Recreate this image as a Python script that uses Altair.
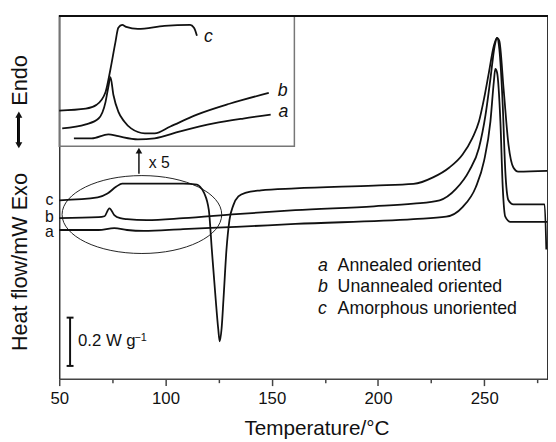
import altair as alt
import pandas as pd

FONT = "Liberation Sans"
W, H = 496, 368
XDOM = [50, 280]
YDOM = [0, 1.502]

# ---- main DSC curves: temperature (°C) and heat flow (W/g, arbitrary offset)
A_T = [50, 68.5, 75.9, 81.9, 89.8, 108.3, 133.3, 161.1, 216.7, 232.1, 239.8, 246.0, 249.9,
       252.9, 254.5, 255.2, 256.0, 257.6, 258.7, 259.9, 262.2, 279.6]
A_V = [0.616, 0.616, 0.624, 0.616, 0.612, 0.620, 0.629, 0.641, 0.661, 0.671, 0.711, 0.793, 0.902,
       1.065, 1.229, 1.283, 1.269, 1.065, 0.793, 0.671, 0.650, 0.650]

B_T = [50, 68.5, 71.3, 73.6, 75.9, 78.7, 81.9, 91.2, 108.3, 133.3, 161.1, 198.1, 216.7, 229.0,
       236.7, 242.9, 247.5, 250.6, 252.9, 254.9, 256.0, 257.1, 258.7, 259.9, 261.4, 263.7, 278.4, 279.2]
B_V = [0.665, 0.669, 0.673, 0.706, 0.678, 0.665, 0.661, 0.657, 0.665, 0.682, 0.698, 0.714, 0.725, 0.739,
       0.786, 0.861, 0.956, 1.093, 1.242, 1.378, 1.412, 1.365, 1.133, 0.861, 0.739, 0.722, 0.722, 0.535]

C_T = [50, 68.1, 72.7, 76.9, 79.6, 87.0, 108.3, 114.8, 116.2, 118.1, 120.4, 121.8, 123.6, 124.8,
       125.5, 126.4, 127.3, 128.7, 130.1, 131.9, 134.3, 138.0, 144.9, 161.1, 198.1, 216.7, 225.9,
       233.6, 239.8, 244.4, 247.5, 249.9, 252.2, 254.5, 256.0, 257.1, 259.1, 261.4, 263.7, 266.0, 279.6]
C_V = [0.739, 0.751, 0.767, 0.796, 0.808, 0.808, 0.808, 0.804, 0.796, 0.771, 0.698, 0.535, 0.331, 0.208,
       0.155, 0.208, 0.331, 0.535, 0.657, 0.718, 0.755, 0.771, 0.780, 0.788, 0.800, 0.807, 0.834,
       0.875, 0.929, 0.997, 1.065, 1.160, 1.269, 1.378, 1.412, 1.399, 1.201, 0.970, 0.875, 0.858, 0.861]

# ---- inset (x5 magnification of the 50-150 °C region), relative heat flow W/g
INSET_BASE = 0.9633   # bottom of inset box in main units
MAG = 5
INSET_T_END = 160.65
IC_T = [50, 62.5, 67.6, 71.8, 74.1, 76.4, 77.8, 79.6, 81.5, 87.0, 99.5, 111.6, 113.4, 114.8]
IC_V = [0.0294, 0.0310, 0.0343, 0.0449, 0.0637, 0.0857, 0.0980, 0.1004, 0.0988, 0.0971, 0.0996,
        0.1004, 0.0980, 0.0914]
IB_T = [51.4, 62.5, 68.5, 71.8, 73.1, 74.1, 75.5, 77.8, 80.6, 83.8, 90.3, 94.9, 102.3, 114.8, 130.1, 148.6]
IB_V = [0.0147, 0.0180, 0.0229, 0.0367, 0.0490, 0.0571, 0.0424, 0.0286, 0.0204, 0.0147, 0.0106,
        0.0106, 0.0163, 0.0261, 0.0351, 0.0441]
IA_T = [56.9, 65.3, 73.1, 77.8, 87.0, 94.9, 106.9, 122.7, 136.6, 149.5]
IA_V = [0.0065, 0.0065, 0.0098, 0.0082, 0.0057, 0.0065, 0.0122, 0.0188, 0.0229, 0.0261]

X_TICKS = [50, 75, 100, 125, 150, 175, 200, 225, 250, 275]
LEGEND_KEYS = ["a", "b", "c"]
LEGEND_TEXT = ["Annealed oriented", "Unannealed oriented", "Amorphous unoriented"]
Y_TITLE_LEFT = "Heat flow/mW Exo"
Y_TITLE_RIGHT = "Endo"


def frame(ts, vs, name):
    return pd.DataFrame({"T": ts, "v": vs, "curve": name})


main_df = pd.concat([frame(A_T, A_V, "a"), frame(B_T, B_V, "b"), frame(C_T, C_V, "c")])
inset_df = pd.concat([frame(IA_T, IA_V, "a"), frame(IB_T, IB_V, "b"), frame(IC_T, IC_V, "c")])

xs = alt.Scale(domain=XDOM, nice=False, zero=False)
ys = alt.Scale(domain=YDOM, nice=False, zero=False)

x_axis = alt.Axis(
    values=X_TICKS,
    labelExpr="datum.value % 50 == 0 ? datum.label : ''",
    tickSize={"condition": {"test": "datum.value % 50 === 0", "value": 7}, "value": 4},
    grid=False, domainColor="#444", domainWidth=1.5, tickColor="#444", tickWidth=1.5,
    labelFont=FONT, labelFontSize=17, labelColor="#111", labelPadding=5, labelFlush=False,
    title="Temperature/°C", titleFont=FONT, titleFontSize=21, titleFontWeight="normal",
    titleColor="#111", titleX=261, titleY=57, titleBaseline="alphabetic", titleAlign="center",
)
y_axis = alt.Axis(labels=False, ticks=False, grid=False, domainColor="#333", domainWidth=1.5, title=None)

X = alt.X("T:Q", scale=xs, axis=x_axis)
Y = alt.Y("v:Q", scale=ys, axis=y_axis)

curves = alt.Chart(main_df).mark_line(color="#111", strokeWidth=1.8, interpolate="monotone").encode(
    x=X, y=Y, detail="curve:N")

inset_curves = alt.Chart(inset_df).transform_calculate(
    v=f"{INSET_BASE} + {MAG} * datum.v"
).mark_line(color="#111", strokeWidth=1.8, interpolate="monotone").encode(x=X, y=Y, detail="curve:N")

# inset box
box = alt.Chart(pd.DataFrame({"T": [XDOM[0]], "T2": [INSET_T_END], "v": [INSET_BASE], "v2": [YDOM[1]]})
                ).mark_rect(fillOpacity=0, stroke="#777", strokeWidth=1.5).encode(
    x=X, x2="T2:Q", y=Y, y2="v2:Q")

# ellipse around the 50-125 °C region
ellipse = alt.Chart(pd.DataFrame({"T": [88.9], "v": [0.680]})).mark_point(
    shape="M -1 0 A 1 0.488 0 1 1 1 0 A 1 0.488 0 1 1 -1 0",
    size=162 ** 2, filled=False, strokeWidth=1, color="#222", opacity=1
).encode(x=X, y=Y)

# arrow from ellipse to inset
arrow_line = alt.Chart(pd.DataFrame({"T": [87.5], "v": [0.849], "v2": [0.94]})).mark_rule(
    color="#111", strokeWidth=1.5).encode(x=X, y=Y, y2="v2:Q")
arrow_head = alt.Chart(pd.DataFrame({"T": [87.5], "v": [0.945]})).mark_point(
    shape="triangle-up", size=45, filled=True, color="#111", opacity=1).encode(x=X, y=Y)
x5 = alt.Chart(pd.DataFrame({"T": [92.1], "v": [0.873], "t": ["x 5"]})).mark_text(
    font=FONT, fontSize=16, align="left", baseline="alphabetic", color="#111").encode(
    x=X, y=Y, text="t:N")

# curve labels at left
left_labels = alt.Chart(pd.DataFrame({"T": [45.4, 45.4, 45.4], "v": [0.720, 0.650, 0.589],
                                      "t": ["c", "b", "a"]})).mark_text(
    font=FONT, fontSize=16, align="center", baseline="alphabetic", color="#111").encode(
    x=X, y=Y, text="t:N")

# inset labels
inset_labels = alt.Chart(pd.DataFrame({"T": [118.1, 152.8, 153.2], "v": [0.0863, 0.0416, 0.0245],
                                       "t": ["c", "b", "a"]})).transform_calculate(
    v=f"{INSET_BASE} + {MAG} * datum.v"
).mark_text(font=FONT, fontSize=18, fontStyle="italic", align="left", baseline="alphabetic",
            color="#111").encode(x=X, y=Y, text="t:N")

# legend text
leg_keys = alt.Chart(pd.DataFrame({"T": [171.8] * 3, "v": [0.446, 0.358, 0.267], "t": LEGEND_KEYS})
                     ).mark_text(font=FONT, fontSize=18, fontStyle="italic", align="left",
                                 baseline="alphabetic", color="#111").encode(x=X, y=Y, text="t:N")
leg_text = alt.Chart(pd.DataFrame({"T": [181.0] * 3, "v": [0.446, 0.358, 0.267], "t": LEGEND_TEXT})
                     ).mark_text(font=FONT, fontSize=18, align="left",
                                 baseline="alphabetic", color="#111").encode(x=X, y=Y, text="t:N")

# scale bar 0.2 W/g
bar = alt.Chart(pd.DataFrame({"T": [55.1], "v": [0.053], "v2": [0.253]})).mark_rule(
    color="#111", strokeWidth=2).encode(x=X, y=Y, y2="v2:Q")
caps = alt.Chart(pd.DataFrame({"T": [55.1, 55.1], "v": [0.053, 0.253]})).mark_point(
    shape="M -1 0 L 1 0", size=49, filled=False, strokeWidth=2, color="#111", opacity=1
).encode(x=X, y=Y)
bar_text = alt.Chart(pd.DataFrame({"T": [58.8], "v": [0.1347], "t": ["0.2 W g"]})).mark_text(
    font=FONT, fontSize=17, align="left", baseline="alphabetic", color="#111").encode(
    x=X, y=Y, text="t:N")
bar_sup = alt.Chart(pd.DataFrame({"T": [85.4], "v": [0.155], "t": ["−1"]})).mark_text(
    font=FONT, fontSize=11, align="left", baseline="alphabetic", color="#111").encode(
    x=X, y=Y, text="t:N")

top_line = alt.Chart(main_df).mark_rule(color="#111", strokeWidth=1.5).encode(
    x=alt.value(0), x2=alt.value(W), y=alt.value(0))

# y-axis title, built from pieces (rotated text + double arrow)
ytitle_df = pd.DataFrame({"t": [Y_TITLE_LEFT, Y_TITLE_RIGHT], "py": [340, 91]})
ytitle = alt.Chart(ytitle_df).mark_text(
    font=FONT, fontSize=22, angle=270, align="left", baseline="middle", color="#111"
).encode(x=alt.value(-40), y=alt.Y("py:Q", scale=None, axis=None), text="t:N")
yarrow = alt.Chart(main_df).mark_rule(color="#111", strokeWidth=1.8).encode(
    x=alt.value(-41), y=alt.value(101), y2=alt.value(130))
yarrow_heads = alt.Chart(pd.DataFrame({"py": [100, 131], "s": ["triangle-up", "triangle-down"]})).mark_point(
    filled=True, size=50, color="#111", opacity=1
).encode(x=alt.value(-41), y=alt.Y("py:Q", scale=None, axis=None),
         shape=alt.Shape("s:N", scale=None, legend=None))

chart = alt.layer(
    box, ellipse, curves, inset_curves, arrow_line, arrow_head, x5, left_labels, inset_labels,
    leg_keys, leg_text, bar, caps, bar_text, bar_sup, top_line, ytitle, yarrow, yarrow_heads
).resolve_scale(y="independent").properties(
    width=W, height=H,
    padding={"left": 52, "top": 5, "right": 0, "bottom": 60},
    autosize=alt.AutoSizeParams(type="none"),
).configure_view(stroke=None)

chart.save("out.html", embed_options={"renderer": "svg", "actions": False})
